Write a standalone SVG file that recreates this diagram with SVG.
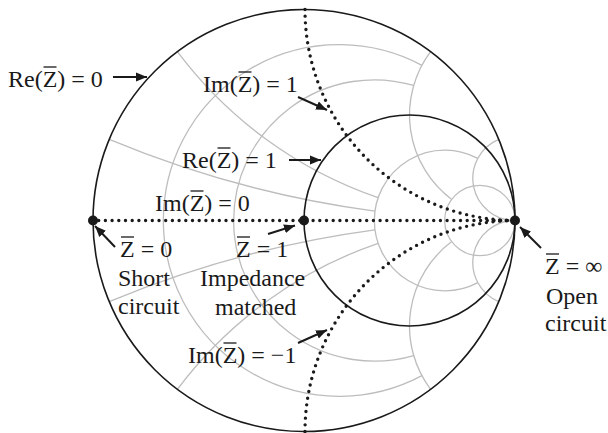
<svg xmlns="http://www.w3.org/2000/svg" width="608" height="433" viewBox="0 0 608 433">
<style>
.grid{fill:none;stroke:#bdbdbd;stroke-width:1.3}
.blk{fill:none;stroke:#1a1a1a;stroke-width:1.6}
.dot{fill:none;stroke:#1a1a1a;stroke-width:3.4;stroke-linecap:round;stroke-dasharray:0 6.7}
.arr{fill:none;stroke:#1a1a1a;stroke-width:2;marker-end:url(#ah)}
.bar{stroke:#1a1a1a;stroke-width:1.3}
text{font-family:"Liberation Serif","Times New Roman",serif;font-size:24px;fill:#1a1a1a}
</style>
<defs>
<marker id="ah" markerUnits="userSpaceOnUse" markerWidth="12" markerHeight="10" refX="11" refY="5" orient="auto">
<path d="M0,0.5 L11,5 L0,9.5 z" fill="#1a1a1a"/>
</marker>
</defs>
<rect width="608" height="433" fill="#ffffff"/>
<g id="chart">
<g id="grid">
<path class="grid" d="M421.91,65.35 A175.83,175.83 0 1 0 421.91,375.65"/>
<path class="grid" d="M413.72,85.46 A140.67,140.67 0 1 0 413.72,355.54"/>
<path class="grid" d="M477.76,158.44 A70.33,70.33 0 1 0 477.76,282.56"/>
<circle class="grid" cx="479.83" cy="220.5" r="35.17"/>
<path class="grid" d="M109.23,139.35 A1055,1055 0 0 0 374.96,211.16"/>
<path class="grid" d="M109.23,301.65 A1055,1055 0 0 1 374.96,229.84"/>
<path class="grid" d="M177.4,51.7 A422,422 0 0 0 378.14,197.69"/>
<path class="grid" d="M177.4,389.3 A422,422 0 0 1 378.14,243.31"/>
<path class="grid" d="M430.6,51.7 A105.5,105.5 0 0 0 451.7,199.4"/>
<path class="grid" d="M430.6,389.3 A105.5,105.5 0 0 1 451.7,241.6"/>
<path class="grid" d="M498.77,139.35 A42.2,42.2 0 0 0 515,220.5"/>
<path class="grid" d="M498.77,301.65 A42.2,42.2 0 0 1 515,220.5"/>
</g>
<circle id="re0" class="blk" cx="304" cy="220.5" r="211"/>
<circle id="re1" class="blk" cx="409.5" cy="220.5" r="105.5"/>
<path id="im0" class="dot" d="M92,220.5 L515,220.5"/>
<path id="im1" class="dot" d="M305,9.5 A211,211 0 0 0 515,220.5"/>
<path id="imm1" class="dot" d="M305,431.5 A211,211 0 0 1 515,220.5"/>
<circle id="p0" cx="93" cy="220.5" r="5" fill="#1a1a1a"/>
<circle id="p1" cx="304" cy="220.5" r="5" fill="#1a1a1a"/>
<circle id="pinf" cx="515" cy="220.5" r="5" fill="#1a1a1a"/>
</g>
<g id="connectors">
<line class="arr" x1="113" y1="77" x2="147" y2="77"/>
<line class="arr" x1="298" y1="97" x2="327" y2="110"/>
<line class="arr" x1="289" y1="160" x2="321" y2="160"/>
<line class="arr" x1="115" y1="247" x2="95" y2="226"/>
<line class="arr" x1="268" y1="234" x2="295" y2="225.5"/>
<line class="arr" x1="298" y1="343" x2="327" y2="330"/>
<line class="arr" x1="541" y1="248" x2="520" y2="227"/>
</g>
<g id="label-re0">
<text x="8" y="87">Re(Z) = 0</text>
<line class="bar" x1="43.5" y1="67" x2="56.5" y2="67"/>
</g>
<g id="label-im1">
<text x="203" y="92">Im(Z) = 1</text>
<line class="bar" x1="238.5" y1="72" x2="251.5" y2="72"/>
</g>
<g id="label-re1">
<text x="182" y="168">Re(Z) = 1</text>
<line class="bar" x1="217.5" y1="148" x2="230.5" y2="148"/>
</g>
<g id="label-im0">
<text x="155" y="211">Im(Z) = 0</text>
<line class="bar" x1="190.5" y1="191" x2="203.5" y2="191"/>
</g>
<g id="label-short">
<text x="120" y="257">Z = 0</text>
<line class="bar" x1="121" y1="237" x2="134" y2="237"/>
<text x="118" y="286">Short</text>
<text x="118" y="314">circuit</text>
</g>
<g id="label-matched">
<text x="236" y="257">Z = 1</text>
<line class="bar" x1="237" y1="237" x2="250" y2="237"/>
<text x="200" y="286">Impedance</text>
<text x="215" y="315">matched</text>
</g>
<g id="label-imm1">
<text x="188" y="363">Im(Z) = −1</text>
<line class="bar" x1="223.5" y1="343" x2="236.5" y2="343"/>
</g>
<g id="label-open">
<text x="545" y="274">Z = ∞</text>
<line class="bar" x1="546" y1="254" x2="559" y2="254"/>
<text x="546" y="304">Open</text>
<text x="545" y="331">circuit</text>
</g>
</svg>
